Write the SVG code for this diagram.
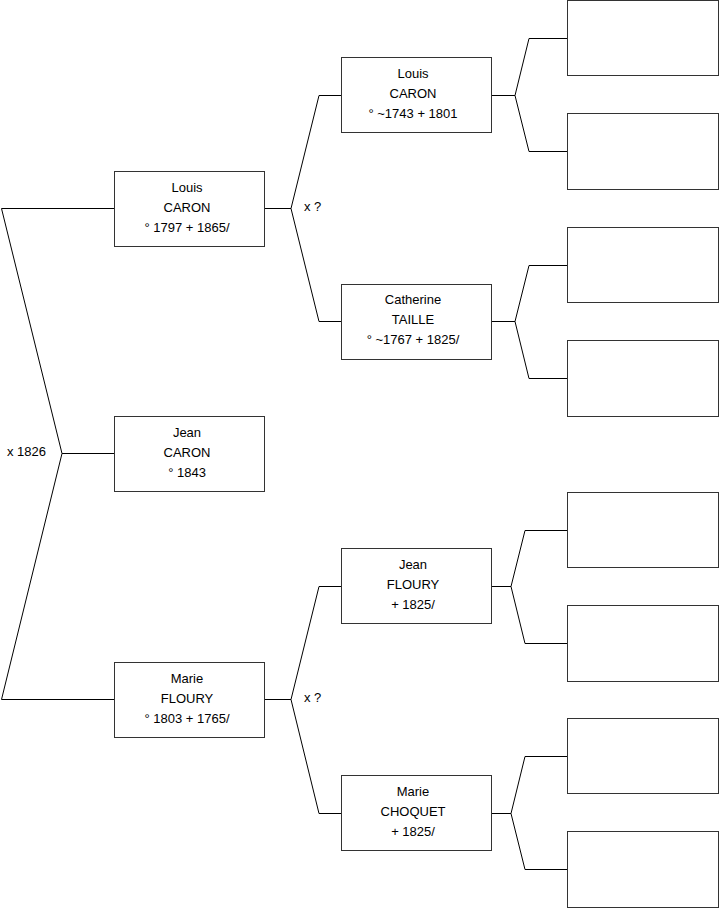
<svg xmlns="http://www.w3.org/2000/svg" width="719" height="908" viewBox="0 0 719 908">
<style>
.box{fill:#fff;stroke:#333;stroke-width:1}
.ln{fill:none;stroke:#000;stroke-width:1}
text{font-family:"Liberation Sans",Arial,sans-serif;font-size:13px;fill:#000}
.c{text-anchor:middle}
</style>
<rect width="719" height="908" fill="#fff"/>
<g id="connectors">
<path class="ln" d="M114,208.5 H1.5 L62,453.5 L1.5,699.5 H114 M62,453.5 H114"/>
<path class="ln" d="M265,208.5 H291 L319,95.5 H341 M291,208.5 L319,321.5 H341"/>
<path class="ln" d="M265,699.5 H291 L319,586.5 H341 M291,699.5 L319,813.5 H341"/>
<path class="ln" d="M491,95.5 H515 L529,38.5 H567 M515,95.5 L529,151.5 H567"/>
<path class="ln" d="M491,321.5 H515 L529,265.5 H567 M515,321.5 L529,378.5 H567"/>
<path class="ln" d="M491,586.5 H511 L525,530.5 H567 M511,586.5 L525,643.5 H567"/>
<path class="ln" d="M491,813.5 H511 L525,756.5 H567 M511,813.5 L525,869.5 H567"/>
<text x="304" y="211">x ?</text>
<text x="304" y="702">x ?</text>
<text x="7" y="456">x 1826</text>
</g>
<g id="n_louis1"><rect class="box" x="114.5" y="171.5" width="150" height="75"/>
<text class="c" x="187" y="192">Louis</text><text class="c" x="187" y="212">CARON</text><text class="c" x="187" y="232">° 1797 + 1865/</text></g>
<g id="n_jean1"><rect class="box" x="114.5" y="416.5" width="150" height="75"/>
<text class="c" x="187" y="437">Jean</text><text class="c" x="187" y="457">CARON</text><text class="c" x="187" y="477">° 1843</text></g>
<g id="n_marie1"><rect class="box" x="114.5" y="662.5" width="150" height="75"/>
<text class="c" x="187" y="683">Marie</text><text class="c" x="187" y="703">FLOURY</text><text class="c" x="187" y="723">° 1803 + 1765/</text></g>
<g id="n_louis2"><rect class="box" x="341.5" y="57.5" width="150" height="75"/>
<text class="c" x="413" y="78">Louis</text><text class="c" x="413" y="98">CARON</text><text class="c" x="413" y="118">° ~1743 + 1801</text></g>
<g id="n_catherine"><rect class="box" x="341.5" y="284.5" width="150" height="75"/>
<text class="c" x="413" y="304">Catherine</text><text class="c" x="413" y="324">TAILLE</text><text class="c" x="413" y="344">° ~1767 + 1825/</text></g>
<g id="n_jean2"><rect class="box" x="341.5" y="548.5" width="150" height="75"/>
<text class="c" x="413" y="569">Jean</text><text class="c" x="413" y="589">FLOURY</text><text class="c" x="413" y="609">+ 1825/</text></g>
<g id="n_marie2"><rect class="box" x="341.5" y="775.5" width="150" height="75"/>
<text class="c" x="413" y="796">Marie</text><text class="c" x="413" y="816">CHOQUET</text><text class="c" x="413" y="836">+ 1825/</text></g>
<g id="n_g3_1"><rect class="box" x="567.5" y="0.5" width="151" height="75"/></g>
<g id="n_g3_2"><rect class="box" x="567.5" y="113.5" width="151" height="76"/></g>
<g id="n_g3_3"><rect class="box" x="567.5" y="227.5" width="151" height="75"/></g>
<g id="n_g3_4"><rect class="box" x="567.5" y="340.5" width="151" height="76"/></g>
<g id="n_g3_5"><rect class="box" x="567.5" y="492.5" width="151" height="75"/></g>
<g id="n_g3_6"><rect class="box" x="567.5" y="605.5" width="151" height="76"/></g>
<g id="n_g3_7"><rect class="box" x="567.5" y="718.5" width="151" height="75"/></g>
<g id="n_g3_8"><rect class="box" x="567.5" y="831.5" width="151" height="76"/></g>
</svg>
